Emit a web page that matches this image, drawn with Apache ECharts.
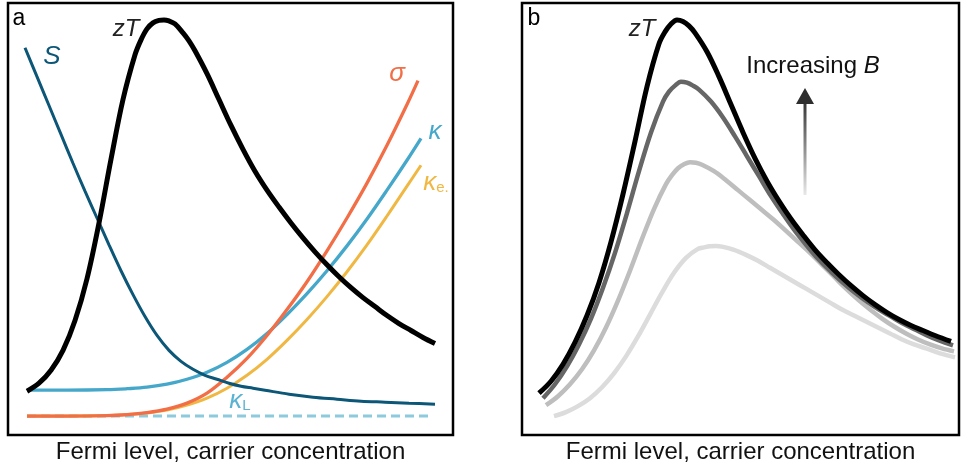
<!DOCTYPE html>
<html><head><meta charset="utf-8">
<script src="https://cdn.jsdelivr.net/npm/echarts@6/dist/echarts.min.js"></script>
<style>html,body{margin:0;padding:0;background:#fff}#c{width:962px;height:469px}</style>
</head><body><div id="c"></div>
<script>
// ---- Panel a (arbitrary units: x = Fermi level, y = property magnitude) ----
const seebeckA = [[17,389],[29,360],[41,331],[53,302],[65,273],[77,245],[89,218],[101,191],[113,165],[125,141],[137,119],[149,100],[161,85],[173,74],[185,66],[197,60],[209,56],[221,52],[233,49],[245,47],[257,45],[281,41],[305,38],[329,36],[353,34],[377,33],[401,32],[427,31]];
const zTA = [[19,44],[31,52],[43,65],[55,85],[67,115],[79,157],[91,213],[103,277],[115,337],[127,382],[133,397],[139,408],[145,414],[151,416.5],[156,417],[161,416],[167,413],[175,404],[181,396],[187,386],[199,363],[211,337],[223,311],[235,287],[247,265],[259,246],[271,229],[283,213],[295,198],[307,184],[319,171],[331,159],[343,148],[355,138],[367,129],[379,120],[391,112],[403,105],[415,98],[427,92]];
const sigmaA = [[19,19],[59,19],[99,19.5],[119,20.5],[139,22.5],[159,26],[179,32],[199,42],[219,58],[239,77],[259,100],[279,126],[299,154],[319,185],[339,218],[359,253],[379,291],[399,332],[410,356]];
const kappaA = [[19,45],[59,45],[99,45.5],[119,46.5],[139,48],[159,51],[179,56],[199,63],[219,73],[239,86],[259,102],[279,121],[299,142],[319,165],[339,190],[359,217],[379,246],[399,276],[413,298]];
const kappaEA = [[19,19],[59,19],[99,19.5],[119,20.5],[139,22],[159,25],[179,30],[199,37],[219,47],[239,60],[259,76],[279,95],[299,116],[319,139],[339,164],[359,191],[379,220],[399,250],[413,271]];
const kappaLA = [[19,19],[424,19]];
// ---- Panel b: zT for increasing B (lowest B first) ----
const zTB1 = [[32,19],[44,23],[56,29],[68,37],[80,48],[92,62],[104,79],[116,99],[128,121],[140,143],[152,163],[164,178],[176,187],[182,188.5],[188,189.7],[194,190],[200,189.3],[212,186],[224,181],[236,175],[248,168],[260,161],[272,154],[284,147],[296,140],[308,133],[320,126],[332,120],[344,114],[356,108],[368,102],[380,96],[392,91],[404,87],[418,82],[433,78]];
const zTB2 = [[24,30],[36,39],[48,51],[60,66],[72,85],[84,108],[96,135],[108,165],[120,197],[132,227],[144,252],[150,261],[156,268],[162,272],[168,274],[174,273.5],[180,271.5],[192,265],[204,256],[216,246],[228,236],[240,226],[252,216],[264,205],[276,194],[288,183],[300,171],[312,159],[324,147],[336,136],[348,126],[360,117],[372,109],[384,102],[396,96],[408,91],[420,87],[432,84]];
const zTB3 = [[21,37],[33,51],[45,69],[57,91],[69,117],[81,148],[93,183],[105,223],[117,265],[129,304],[141,335],[147,345],[153,351],[159,355],[165,354],[171,351],[177,347],[189,335],[201,319],[213,300],[225,280],[237,260],[249,240],[261,222],[273,205],[285,190],[297,176],[309,164],[321,153],[333,143],[345,134],[357,126],[369,119],[381,112],[393,106],[405,100],[417,95],[431,90]];
const zTB4 = [[17,42],[29,54],[41,71],[53,93],[65,120],[77,153],[89,194],[101,242],[113,295],[125,350],[137,393],[143,405],[149,413],[155,417],[161,415.5],[167,411],[173,404],[185,385],[197,360],[209,332],[221,304],[233,278],[245,255],[257,235],[269,217],[281,201],[293,186],[305,173],[317,161],[329,150],[341,140],[353,131],[365,123],[377,116],[389,110],[401,105],[413,100],[429,94]];
const xTitle = 'Fermi level, carrier concentration';

const FONT = "'Liberation Sans', Arial, Helvetica, sans-serif";
const chart = echarts.init(document.getElementById('c'));
function line(data, color, width, idx, extra) {
  return Object.assign({
    type: 'line', data: data, xAxisIndex: idx, yAxisIndex: idx,
    symbol: 'none', showSymbol: false, smooth: 0.35, silent: true,
    lineStyle: { color: color, width: width, cap: 'butt' }
  }, extra || {});
}
function xAx(idx, max) {
  return { type: 'value', gridIndex: idx, min: 0, max: max,
    axisLine: { show: false }, axisTick: { show: false }, axisLabel: { show: false }, splitLine: { show: false },
    name: xTitle, nameLocation: 'middle', nameGap: 5,
    nameTextStyle: { fontSize: 24, fontFamily: FONT, color: '#111' } };
}
function yAx(idx) {
  return { type: 'value', gridIndex: idx, min: 0, max: 434, show: false };
}
function txt(x, y, text, size, color, italic, rich) {
  return { type: 'text', x: x, y: y, z: 100, style: {
    text: text, fontSize: size, fontFamily: FONT, fontStyle: italic ? 'italic' : 'normal',
    fill: color, align: 'center', verticalAlign: 'middle', rich: rich } };
}
const option = {
  animation: false,
  grid: [
    { left: 8, top: 3, width: 445, height: 434, show: true, borderColor: '#000', borderWidth: 2.5 },
    { left: 522, top: 3, width: 437, height: 434, show: true, borderColor: '#000', borderWidth: 2.5 }
  ],
  xAxis: [xAx(0, 445), xAx(1, 437)],
  yAxis: [yAx(0), yAx(1)],
  series: [
    line(kappaLA, '#8ccadc', 3, 0, { smooth: false, lineStyle: { color: '#8ccadc', width: 3, type: [9, 5] } }),
    line(kappaEA, '#f0b842', 3, 0),
    line(kappaA, '#45a8ca', 3.3, 0),
    line(sigmaA, '#f26e47', 3.3, 0),
    line(seebeckA, '#0c5677', 3, 0),
    line(zTA, '#000', 5, 0),
    line(zTB1, '#dcdcdc', 4.5, 1),
    line(zTB2, '#bebebe', 4.5, 1),
    line(zTB3, '#666666', 4.5, 1),
    line(zTB4, '#000', 5, 1)
  ],
  graphic: [
    txt(19, 19, 'a', 23, '#000'),
    txt(534, 19, 'b', 23, '#000'),
    txt(126, 29, 'zT', 24, '#222', true),
    txt(642, 29, 'zT', 24, '#222', true),
    txt(52, 57, 'S', 26, '#0c5677', true),
    txt(397, 74, 'σ', 26, '#f26e47', true),
    txt(435, 132, 'κ', 26, '#45a8ca', true),
    txt(436, 183, '{m|κ}{s|e.}', 26, '#f0b842', true, {
      m: { fontSize: 26, fontStyle: 'italic', fontFamily: FONT, fill: '#f0b842', color: '#f0b842' },
      s: { fontSize: 15, fontFamily: FONT, fill: '#f0b842', color: '#f0b842', padding: [10, 0, 0, 0] } }),
    txt(240, 401, '{m|κ}{s|L}', 26, '#5ab3d3', true, {
      m: { fontSize: 26, fontStyle: 'italic', fontFamily: FONT, fill: '#5ab3d3', color: '#5ab3d3' },
      s: { fontSize: 15, fontFamily: FONT, fill: '#5ab3d3', color: '#5ab3d3', padding: [10, 0, 0, 0] } }),
    txt(813, 66, '{n|Increasing }{i|B}', 24, '#111', false, {
      n: { fontSize: 24, fontFamily: FONT, fill: '#111', color: '#111' },
      i: { fontSize: 24, fontFamily: FONT, fontStyle: 'italic', fill: '#111', color: '#111' } }),
    { type: 'rect', z: 100, shape: { x: 803.5, y: 101, width: 3, height: 94 },
      style: { fill: new echarts.graphic.LinearGradient(0, 1, 0, 0, [{ offset: 0, color: '#e8e8e8' }, { offset: 1, color: '#333' }]) } },
    { type: 'polygon', z: 100, shape: { points: [[796, 104], [814, 104], [805, 88]] }, style: { fill: '#2e2e2e' } }
  ]
};
chart.setOption(option);
</script></body></html>
